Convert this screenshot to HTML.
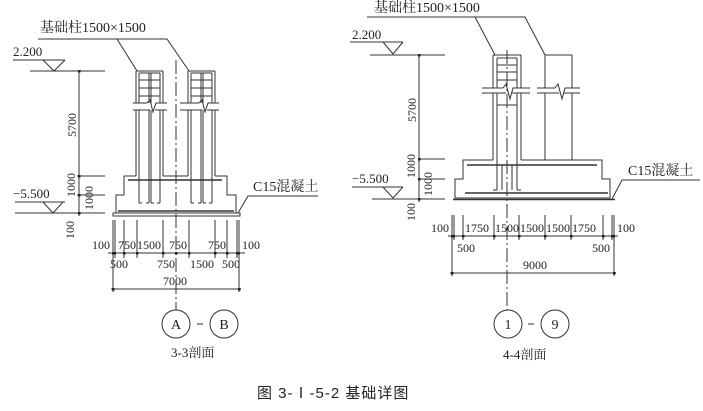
<!DOCTYPE html>
<html><head><meta charset="utf-8"><style>
html,body{margin:0;padding:0;background:#fff;}
svg{display:block;}
text{font-family:"Liberation Serif","Noto Serif CJK SC",serif;fill:#222;}
.c{font-family:"Liberation Sans","Noto Sans CJK SC",sans-serif;}
</style></head><body>
<svg width="703" height="411" viewBox="0 0 703 411" xmlns="http://www.w3.org/2000/svg">
<g stroke="#333" stroke-width="1" fill="none">
<polyline points="38,39 167,39 189,71"/>
<line x1="117" y1="39" x2="137" y2="71"/>
<line x1="13" y1="60" x2="65" y2="60"/>
<polyline points="43,60 54,71 65,60"/>
<line x1="30" y1="71" x2="105" y2="71"/>
<line x1="15" y1="202" x2="65" y2="202"/>
<polyline points="43,202 53,213 63,202"/>
<line x1="15" y1="213" x2="105" y2="213"/>
<line x1="77" y1="176" x2="105" y2="176"/>
<line x1="77" y1="195" x2="105" y2="195"/>
<line x1="79" y1="71" x2="79" y2="216"/>
<g>
<line x1="136" y1="71" x2="136" y2="103"/><line x1="136" y1="110" x2="136" y2="176"/>
<line x1="163" y1="71" x2="163" y2="103"/><line x1="163" y1="110" x2="163" y2="176"/>
<line x1="136" y1="71" x2="163" y2="71"/>
<line x1="139" y1="73" x2="139" y2="103"/><line x1="160" y1="73" x2="160" y2="103"/>
<line x1="149" y1="73" x2="149" y2="103"/><line x1="151" y1="73" x2="151" y2="103"/>
<line x1="139" y1="73" x2="160" y2="73"/>
<line x1="139" y1="80" x2="160" y2="80"/><line x1="139" y1="88" x2="160" y2="88"/><line x1="139" y1="96" x2="160" y2="96"/>
<line x1="133" y1="103" x2="147" y2="103"/><polyline points="147,103 150,100 153,112 156,103 167,103"/>
<line x1="133" y1="110" x2="150" y2="110"/><line x1="155" y1="110" x2="167" y2="110"/>
<line x1="139" y1="110" x2="139" y2="203"/><line x1="139" y1="203" x2="142" y2="203"/>
<line x1="149" y1="110" x2="149" y2="203"/><line x1="149" y1="203" x2="146" y2="203"/>
<line x1="151" y1="110" x2="151" y2="203"/><line x1="151" y1="203" x2="154" y2="203"/>
<line x1="160" y1="110" x2="160" y2="203"/><line x1="160" y1="203" x2="157" y2="203"/>
</g>
<g>
<line x1="188" y1="71" x2="188" y2="103"/><line x1="188" y1="110" x2="188" y2="176"/>
<line x1="215" y1="71" x2="215" y2="103"/><line x1="215" y1="110" x2="215" y2="176"/>
<line x1="188" y1="71" x2="215" y2="71"/>
<line x1="191" y1="73" x2="191" y2="103"/><line x1="212" y1="73" x2="212" y2="103"/>
<line x1="201" y1="73" x2="201" y2="103"/><line x1="203" y1="73" x2="203" y2="103"/>
<line x1="191" y1="73" x2="212" y2="73"/>
<line x1="191" y1="80" x2="212" y2="80"/><line x1="191" y1="88" x2="212" y2="88"/><line x1="191" y1="96" x2="212" y2="96"/>
<line x1="180" y1="103" x2="199" y2="103"/><polyline points="199,103 202,100 205,112 208,103 219,103"/>
<line x1="180" y1="110" x2="202" y2="110"/><line x1="207" y1="110" x2="219" y2="110"/>
<line x1="191" y1="110" x2="191" y2="203"/><line x1="191" y1="203" x2="194" y2="203"/>
<line x1="201" y1="110" x2="201" y2="203"/><line x1="201" y1="203" x2="198" y2="203"/>
<line x1="203" y1="110" x2="203" y2="203"/><line x1="203" y1="203" x2="206" y2="203"/>
<line x1="212" y1="110" x2="212" y2="203"/><line x1="212" y1="203" x2="209" y2="203"/>
</g>
<polyline points="136,176 124,176 124,195 116,195 116,213 236,213 236,195 227,195 227,176 215,176"/>
<line x1="163" y1="176" x2="188" y2="176"/>
<rect x="113" y="213" width="127" height="3"/>
<line x1="128" y1="180" x2="222" y2="180" stroke-width="1.5"/>
<line x1="118" y1="211" x2="234" y2="211" stroke-width="1.5"/>
<polyline points="318,196 248,196 238,213"/>
<line x1="176" y1="60" x2="176" y2="310" stroke-dasharray="14,3,2,3"/>
<g>
<line x1="113" y1="220" x2="113" y2="292"/><line x1="115" y1="220" x2="115" y2="258"/>
<line x1="124" y1="220" x2="124" y2="258"/><line x1="137" y1="220" x2="137" y2="258"/>
<line x1="163" y1="220" x2="163" y2="258"/><line x1="189" y1="220" x2="189" y2="258"/>
<line x1="215" y1="220" x2="215" y2="258"/><line x1="227" y1="220" x2="227" y2="258"/>
<line x1="237" y1="220" x2="237" y2="258"/><line x1="239" y1="220" x2="239" y2="292"/>
<line x1="108" y1="253" x2="245" y2="253"/>
<line x1="111" y1="289" x2="241" y2="289"/>
</g>
<circle cx="176" cy="324" r="14"/><circle cx="224" cy="324" r="14"/>
<line x1="197" y1="324" x2="203" y2="324"/>

<polyline points="367,17 525,17 545,55"/>
<line x1="475" y1="17" x2="495" y2="55"/>
<line x1="350" y1="42" x2="403" y2="42"/>
<polyline points="383,42 393,54 403,42"/>
<line x1="370" y1="55" x2="445" y2="55"/>
<line x1="352" y1="187" x2="403" y2="187"/>
<polyline points="383,187 393,198 403,187"/>
<line x1="372" y1="199" x2="445" y2="199"/>
<line x1="420" y1="159" x2="445" y2="159"/>
<line x1="420" y1="179" x2="445" y2="179"/>
<line x1="419" y1="55" x2="419" y2="202"/>
<line x1="493" y1="55" x2="493" y2="88"/><line x1="493" y1="93" x2="493" y2="160"/>
<line x1="521" y1="55" x2="521" y2="88"/><line x1="521" y1="93" x2="521" y2="160"/>
<line x1="493" y1="55" x2="521" y2="55"/>
<line x1="497" y1="58" x2="497" y2="88"/><line x1="517" y1="58" x2="517" y2="88"/>
<line x1="497" y1="58" x2="517" y2="58"/>
<line x1="497" y1="65" x2="517" y2="65"/><line x1="497" y1="72" x2="517" y2="72"/><line x1="497" y1="80" x2="517" y2="80"/>
<line x1="482" y1="88" x2="503" y2="88"/><polyline points="503,88 506,84 510,99 513,88 530,88"/>
<line x1="482" y1="93" x2="506" y2="93"/><line x1="511" y1="93" x2="530" y2="93"/>
<line x1="497" y1="93" x2="497" y2="190"/><line x1="497" y1="105" x2="517" y2="105"/>
<line x1="517" y1="93" x2="517" y2="190"/>
<line x1="497" y1="190" x2="493" y2="190"/><line x1="517" y1="190" x2="521" y2="190"/>
<line x1="502" y1="165" x2="502" y2="190"/><line x1="512" y1="165" x2="512" y2="190"/>
<line x1="545" y1="55" x2="545" y2="88"/><line x1="545" y1="93" x2="545" y2="160"/>
<line x1="572" y1="55" x2="572" y2="88"/><line x1="572" y1="93" x2="572" y2="160"/>
<line x1="545" y1="55" x2="572" y2="55"/>
<line x1="537" y1="88" x2="555" y2="88"/><polyline points="555,88 558,84 562,99 565,88 580,88"/>
<line x1="537" y1="93" x2="559" y2="93"/><line x1="564" y1="93" x2="580" y2="93"/>
<polyline points="493,160 463,160 463,179 455,179 455,198 610,198 610,179 602,179 602,160 521,160"/>
<line x1="453" y1="199.5" x2="615" y2="199.5" stroke-width="1.5"/>
<line x1="467" y1="165" x2="597" y2="165" stroke-width="1.5"/>
<line x1="465" y1="193" x2="608" y2="193" stroke-width="1.5"/>
<polyline points="700,180 622,180 612,199"/>
<line x1="507" y1="50" x2="507" y2="310" stroke-dasharray="14,3,2,3"/>
<line x1="452" y1="215" x2="452" y2="276"/><line x1="454" y1="215" x2="454" y2="240"/>
<line x1="463" y1="215" x2="463" y2="240"/><line x1="494" y1="215" x2="494" y2="240"/>
<line x1="519" y1="215" x2="519" y2="240"/><line x1="545" y1="215" x2="545" y2="240"/>
<line x1="571" y1="215" x2="571" y2="240"/><line x1="603" y1="215" x2="603" y2="240"/>
<line x1="612" y1="215" x2="612" y2="240"/><line x1="614" y1="215" x2="614" y2="276"/>
<line x1="448" y1="236" x2="618" y2="236"/>
<line x1="450" y1="273" x2="616" y2="273"/>
<circle cx="508" cy="324" r="14"/><circle cx="555" cy="324" r="14"/>
<line x1="528" y1="324" x2="534" y2="324"/>
</g>
<g fill="#222">
<rect x="78" y="70" width="2.5" height="2.5"/><rect x="78" y="175" width="2.5" height="2.5"/><rect x="78" y="194" width="2.5" height="2.5"/><rect x="78" y="212" width="2.5" height="2.5"/>
<rect x="418" y="54" width="2.5" height="2.5"/><rect x="418" y="158" width="2.5" height="2.5"/><rect x="418" y="178" width="2.5" height="2.5"/><rect x="418" y="198" width="2.5" height="2.5"/>
<rect x="112" y="252" width="4" height="2.5"/><rect x="123" y="252" width="2.5" height="2.5"/><rect x="136" y="252" width="2.5" height="2.5"/><rect x="162" y="252" width="2.5" height="2.5"/><rect x="175" y="252" width="2.5" height="2.5"/><rect x="188" y="252" width="2.5" height="2.5"/><rect x="214" y="252" width="2.5" height="2.5"/><rect x="226" y="252" width="2.5" height="2.5"/><rect x="236" y="252" width="4" height="2.5"/>
<rect x="112" y="288" width="2.5" height="2.5"/><rect x="238" y="288" width="2.5" height="2.5"/>
<rect x="451" y="235" width="4" height="2.5"/><rect x="462" y="235" width="2.5" height="2.5"/><rect x="493" y="235" width="2.5" height="2.5"/><rect x="518" y="235" width="2.5" height="2.5"/><rect x="544" y="235" width="2.5" height="2.5"/><rect x="570" y="235" width="2.5" height="2.5"/><rect x="602" y="235" width="2.5" height="2.5"/><rect x="611" y="235" width="4" height="2.5"/>
<rect x="451" y="272" width="2.5" height="2.5"/><rect x="613" y="272" width="2.5" height="2.5"/>
</g>
<text x="40" y="32" font-size="14">基础柱1500×1500</text>
<text x="13" y="56" font-size="13">2.200</text>
<text x="13" y="198" font-size="13">−5.500</text>
<text x="253" y="191" font-size="14">C15混凝土</text>
<text transform="translate(76,125) rotate(-90)" font-size="12" text-anchor="middle">5700</text>
<text transform="translate(75,185) rotate(-90)" font-size="12" text-anchor="middle">1000</text>
<text transform="translate(93,198) rotate(-90)" font-size="12" text-anchor="middle">1000</text>
<text transform="translate(74,230) rotate(-90)" font-size="12" text-anchor="middle">100</text>
<g font-size="12">
<text x="92" y="249">100</text><text x="118" y="249">750</text><text x="137" y="249">1500</text><text x="169" y="249">750</text><text x="208" y="249">750</text><text x="242" y="249">100</text>
<text x="110" y="268">500</text><text x="157" y="268">750</text><text x="190" y="268">1500</text><text x="222" y="268">500</text>
<text x="163" y="285">7000</text>
</g>
<text x="176" y="329" font-size="14" text-anchor="middle">A</text>
<text x="224" y="329" font-size="14" text-anchor="middle">B</text>
<text x="171" y="357" font-size="13">3-3剖面</text>
<text x="374" y="12" font-size="14">基础柱1500×1500</text>
<text x="352" y="39" font-size="13">2.200</text>
<text x="352" y="183" font-size="13">−5.500</text>
<text x="628" y="175" font-size="14">C15混凝土</text>
<text transform="translate(416,110) rotate(-90)" font-size="12" text-anchor="middle">5700</text>
<text transform="translate(415,166) rotate(-90)" font-size="12" text-anchor="middle">1000</text>
<text transform="translate(432,184) rotate(-90)" font-size="12" text-anchor="middle">1000</text>
<text transform="translate(415,212) rotate(-90)" font-size="12" text-anchor="middle">100</text>
<g font-size="12">
<text x="431" y="232">100</text><text x="465" y="232">1750</text><text x="495" y="232">1500</text><text x="520" y="232">1500</text><text x="546" y="232">1500</text><text x="572" y="232">1750</text><text x="617" y="232">100</text>
<text x="457" y="252">500</text><text x="592" y="252">500</text>
<text x="523" y="269">9000</text>
</g>
<text x="508" y="329" font-size="14" text-anchor="middle">1</text>
<text x="555" y="329" font-size="14" text-anchor="middle">9</text>
<text x="503" y="359" font-size="13">4-4剖面</text>
<text x="257" y="398" font-size="15" class="c" letter-spacing="1">图 3-Ⅰ-5-2  基础详图</text>
</svg>
</body></html>
